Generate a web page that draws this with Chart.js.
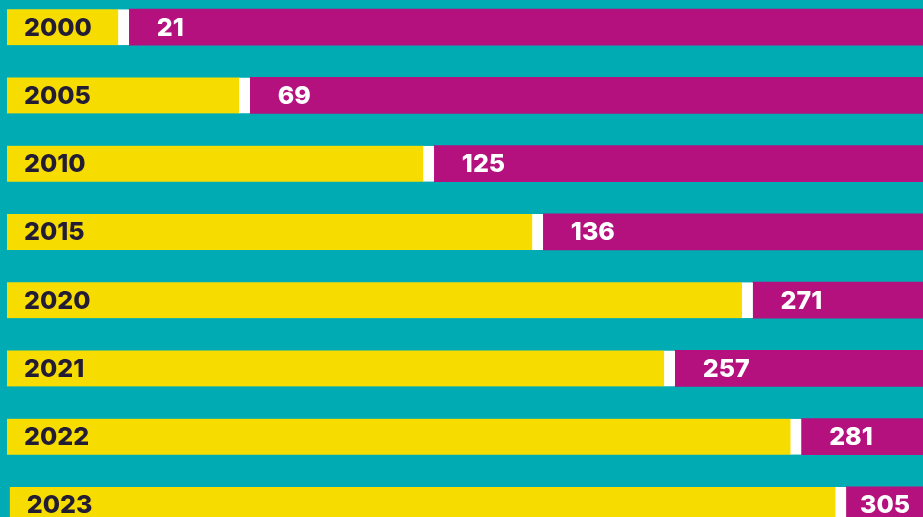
<!DOCTYPE html>
<html>
<head>
<meta charset="utf-8">
<script src="https://cdn.jsdelivr.net/npm/chart.js@4/dist/chart.umd.min.js"></script>
<style>
  html, body { margin: 0; padding: 0; background: #00abb4; overflow: hidden; }
  #wrap { position: relative; width: 923px; height: 517px; overflow: hidden; }
  #box { position: absolute; left: 0; top: -7px; width: 923px; height: 546px; }
</style>
</head>
<body>
<div id="wrap"><div id="box"><canvas id="barChart"></canvas></div></div>
<script>
// Veriler
const years = ['2000', '2005', '2010', '2015', '2020', '2021', '2022', '2023'];
const counts = [21, 69, 125, 136, 271, 257, 281, 305];
// sarı kısmın bittiği yer (eksen yüzdesi, beyaz ayraç dahil)
const barEnds = [13.3, 26.5, 46.6, 58.5, 81.4, 72.9, 86.7, 91.6];
const barStarts = [0, 0, 0, 0, 0, 0, 0, 0.3];
const axisMax = 100;

const yellow = '#f7dc00';
const magenta = '#b5117e';

// Etiketleri çizen eklenti
const labelPlugin = {
    id: 'barLabels',
    afterDatasetsDraw(chart) {
        const ctx = chart.ctx;
        const x = chart.scales.x;
        const y = chart.scales.y;
        ctx.save();
        ctx.font = '800 25px Inter';
        ctx.textBaseline = 'middle';
        ctx.textAlign = 'left';
        years.forEach((yr, i) => {
            const cy = y.getPixelForValue(i) + 1;
            ctx.fillStyle = '#231c35';
            ctx.fillText(yr, x.getPixelForValue(barStarts[i]) + 17, cy);
            // değer etiketi, sağ kenara taşmasın
            const txt = String(counts[i]);
            const w = ctx.measureText(txt).width;
            let lx = x.getPixelForValue(barEnds[i]) + 28;
            lx = Math.min(lx, chart.chartArea.right - w - 13);
            ctx.fillStyle = '#ffffff';
            ctx.fillText(txt, lx, cy);
        });
        ctx.restore();
    }
};

new Chart(document.getElementById('barChart'), {
    type: 'bar',
    data: {
        labels: years,
        datasets: [{
            label: 'sarı',
            data: years.map((_, i) => [barStarts[i], barEnds[i]]),
            backgroundColor: yellow,
            borderColor: '#ffffff',
            borderWidth: { right: 11, left: 0, top: 0, bottom: 0 },
            borderSkipped: false
        }, {
            label: 'mor',
            data: years.map((_, i) => [barEnds[i], axisMax]),
            backgroundColor: magenta,
            borderWidth: 0
        }]
    },
    options: {
        indexAxis: 'y',
        responsive: true,
        maintainAspectRatio: false,
        animation: false,
        layout: { padding: { left: 7, right: 0, top: 0, bottom: 0 } },
        datasets: { bar: { grouped: false, categoryPercentage: 1, barThickness: 36 } },
        plugins: {
            legend: { display: false },
            tooltip: { enabled: false }
        },
        scales: {
            x: { display: false, min: 0, max: axisMax },
            y: { display: false }
        }
    },
    plugins: [labelPlugin]
});
</script>
</body>
</html>
